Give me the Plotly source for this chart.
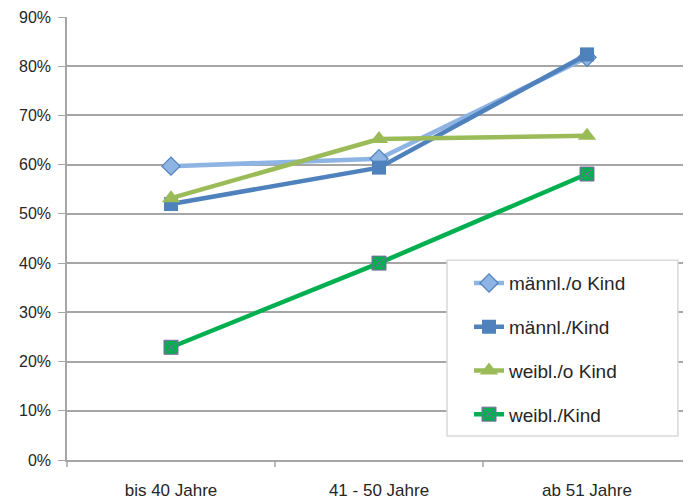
import plotly.graph_objects as go

categories = ["bis 40 Jahre", "41 - 50 Jahre", "ab 51 Jahre"]
maennl_o_kind = [0.597, 0.612, 0.818]
maennl_kind = [0.520, 0.594, 0.824]
weibl_o_kind = [0.532, 0.652, 0.659]
weibl_kind = [0.229, 0.400, 0.581]
series_names = ["männl./o Kind", "männl./Kind", "weibl./o Kind", "weibl./Kind"]

fig = go.Figure()
fig.add_trace(go.Scatter(x=categories, y=maennl_o_kind, name=series_names[0], mode="lines+markers",
                         line=dict(color="#8EB4E3", width=4.5),
                         marker=dict(symbol="diamond", size=14, color="#8EB4E3", line=dict(color="#4F81BD", width=1.2)),
                         legendgroup="a"))
fig.add_trace(go.Scatter(x=categories, y=maennl_kind, name=series_names[1], mode="lines+markers",
                         line=dict(color="#4F81BD", width=4.5),
                         marker=dict(symbol="square", size=14, color="#4F81BD"),
                         legendgroup="b"))
fig.add_trace(go.Scatter(x=categories, y=weibl_o_kind, name=series_names[2], mode="lines+markers",
                         line=dict(color="#9BBB59", width=4.5),
                         marker=dict(symbol="triangle-up", size=16, color="#9BBB59"),
                         legendgroup="c"))
fig.add_trace(go.Scatter(x=categories, y=weibl_kind, name=series_names[3], mode="lines+markers",
                         line=dict(color="#00B050", width=4.5),
                         marker=dict(symbol="square-x", size=14, color="#00B050", line=dict(color="#7F6A9F", width=1)),
                         legendgroup="d"))

fig.update_layout(
    width=683, height=494,
    margin=dict(l=59, r=0, t=9, b=42),
    plot_bgcolor="white", paper_bgcolor="white",
    font=dict(family="Liberation Sans, Arial, sans-serif", size=16, color="#262626"),
    xaxis=dict(type="category", range=[-0.5, 2.5], showgrid=False, showline=True, linecolor="#A6A6A6", linewidth=1.5,
               ticks="", tickfont=dict(size=17, color="#262626"), ticklabelstandoff=14, fixedrange=True),
    yaxis=dict(range=[0, 0.9], dtick=0.1, tickformat=".0%", showgrid=True, gridcolor="#A6A6A6", gridwidth=1.5,
               showline=True, linecolor="#A6A6A6", linewidth=1.5, ticks="outside", ticklen=7, tickcolor="#A6A6A6",
               tickfont=dict(size=16, color="#262626"), zeroline=False, ticklabelstandoff=4),
    legend=dict(x=0.609, y=0.442, xanchor="left", yanchor="top", bgcolor="rgba(0,0,0,0)",
                borderwidth=0, font=dict(size=19, color="#262626"),
                traceorder="grouped", tracegroupgap=16, indentation=22),
    showlegend=True,
)

# legend frame
fig.add_shape(type="rect", xref="paper", yref="paper", x0=0.609, x1=0.979, y0=0.054, y1=0.451,
              fillcolor="white", line=dict(color="#D9D9D9", width=1.5), layer="above")

# category boundary tick marks on x axis
for xb in [0.5, 1.5]:
    fig.add_shape(type="line", xref="x", yref="paper", x0=xb, x1=xb, y0=0, y1=-0.016,
                  line=dict(color="#A6A6A6", width=1.5))
fig.add_shape(type="line", xref="paper", yref="paper", x0=0, x1=0, y0=0, y1=-0.016,
              line=dict(color="#A6A6A6", width=1.5))

fig.write_html("out.html")
